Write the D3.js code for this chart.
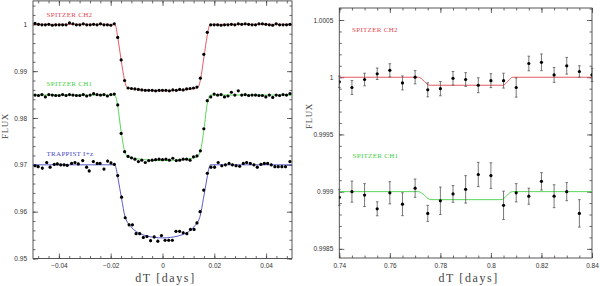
<!DOCTYPE html>
<html><head><meta charset="utf-8">
<script src="https://cdn.jsdelivr.net/npm/d3@7"></script>
<style>
html,body{margin:0;padding:0;background:#fff;}
svg{display:block;}
.tick text{font-family:"Liberation Sans","DejaVu Sans",sans-serif;font-size:6.5px;fill:#333;}
</style></head>
<body><svg id="c" width="600" height="286"></svg>
<script>
// ---------- DATA ----------
// Left panel: Spitzer sampling index (k) with step in days
const spitzerIndex = d3.range(-37, 38);
const spitzerStep = 0.00133;
const ch2Flux = [1.0002,1.0000,0.9999,0.9999,1.0000,0.9998,0.9999,0.9999,0.9999,0.9999,1.0003,1.0001,0.9999,0.9999,1.0001,0.9999,0.9999,1.0000,0.9999,1.0001,0.9999,0.9999,0.9998,1.0001,
 0.9972,0.9924,0.9880,
 0.9864,0.9863,0.9862,0.9861,0.9860,0.9859,0.9859,0.9859,0.9858,0.9859,0.9859,0.9859,0.9858,0.9860,0.9859,0.9861,0.9860,0.9862,0.9863,0.9864,0.9866,
 0.9885,0.9936,0.9983,0.9999,
 0.9999,0.9999,0.9998,0.9999,0.9999,1.0000,0.9999,1.0001,1.0000,1.0001,1.0000,0.9999,0.9999,1.0001,1.0001,1.0000,0.9999,0.9998,1.0001,0.9999,0.9999,0.9999,1.0000];
const ch1Flux = [0.9849,0.9848,0.9850,0.9845,0.9850,0.9849,0.9848,0.9848,0.9850,0.9848,0.9850,0.9849,0.9848,0.9848,0.9850,0.9847,0.9849,0.9852,0.9850,0.9849,0.9850,0.9847,0.9850,0.9851,
 0.9828,0.9767,0.9728,
 0.9718,0.9715,0.9712,0.9707,0.9710,0.9705,0.9709,0.9710,0.9711,0.9712,0.9711,0.9712,0.9710,0.9714,0.9709,0.9710,0.9712,0.9712,0.9710,0.9717,0.9719,
 0.9730,0.9777,0.9837,0.9845,
 0.9851,0.9849,0.9850,0.9845,0.9847,0.9855,0.9849,0.9858,0.9849,0.9850,0.9848,0.9849,0.9849,0.9848,0.9848,0.9845,0.9849,0.9844,0.9849,0.9848,0.9850,0.9849,0.9852];
const trappistTime = [-0.0492,-0.0480,-0.0464,-0.0447,-0.0434,-0.0418,-0.0406,-0.0393,-0.0380,-0.0368,-0.0351,-0.0338,-0.0325,-0.0308,-0.0293,-0.0283,-0.0267,-0.0252,-0.0241,-0.0226,-0.0212,-0.0199,-0.0186,-0.0173,-0.0158,-0.0144,
 -0.0129,-0.0116,-0.0102,-0.0088,-0.0074,-0.0060,-0.0046,-0.0032,-0.0018,-0.0004,0.0010,0.0024,0.0038,0.0052,0.0066,0.0080,0.0094,0.0108,0.0122,0.0133,
 0.0145,0.0159,0.0173,0.0187,0.0201,0.0215,0.0229,0.0243,0.0257,0.0270,0.0284,0.0298,0.0312,0.0325,0.0339,0.0353,0.0366,0.0380,0.0393,0.0406,0.0420,0.0434,0.0447,0.0461,0.0475,0.0492];
const trappistFlux = [0.9698,0.9696,0.9693,0.9705,0.9695,0.9701,0.9702,0.9700,0.9700,0.9699,0.9703,0.9705,0.9702,0.9709,0.9695,0.9687,0.9707,0.9703,0.9703,0.9691,0.9708,0.9704,0.9701,0.9677,0.9631,0.9587,
 0.9572,0.9572,0.9553,0.9553,0.9545,0.9547,0.9538,0.9546,0.9537,0.9549,0.9539,0.9539,0.9539,0.9558,0.9558,0.9555,0.9553,0.9562,0.9562,0.9576,
 0.9600,0.9646,0.9682,0.9695,0.9695,0.9705,0.9698,0.9700,0.9703,0.9700,0.9698,0.9697,0.9703,0.9705,0.9703,0.9700,0.9695,0.9701,0.9703,0.9703,0.9700,0.9696,0.9696,0.9696,0.9696,0.9707];
const trappistErr = 0.0003;
// model curves (knots)
const ch2Model = [[-0.05,1.0],[-0.0185,1.0],[-0.0179,0.9993],[-0.0173,0.9973],[-0.0160,0.9925],[-0.0147,0.9882],[-0.0140,0.9868],[-0.0132,0.9864],[-0.0110,0.9862],[-0.0060,0.9859],[0,0.9858],[0.0060,0.9859],[0.0110,0.9862],[0.0132,0.9864],[0.0140,0.9868],[0.0147,0.9883],[0.0160,0.9930],[0.0173,0.9977],[0.0179,0.9994],[0.0185,1.0],[0.05,1.0]];
const ch1Model = [[-0.05,0.9849],[-0.0185,0.9849],[-0.0179,0.9843],[-0.0173,0.9826],[-0.0160,0.9772],[-0.0147,0.9731],[-0.0140,0.9721],[-0.0130,0.9716],[-0.0100,0.9713],[-0.0050,0.9710],[0,0.9709],[0.0050,0.9710],[0.0100,0.9713],[0.0130,0.9716],[0.0140,0.9721],[0.0147,0.9731],[0.0160,0.9775],[0.0173,0.9832],[0.0179,0.9844],[0.0185,0.9849],[0.05,0.9849]];
const trappistModel = [[-0.05,0.9700],[-0.0185,0.9700],[-0.0178,0.9690],[-0.0172,0.9672],[-0.0158,0.9628],[-0.0145,0.9590],[-0.0138,0.9580],[-0.0125,0.9570],[-0.0110,0.9561],[-0.0090,0.9554],[-0.0060,0.9548],[-0.0030,0.9545],[0,0.9544],[0.0030,0.9545],[0.0060,0.9548],[0.0090,0.9554],[0.0110,0.9561],[0.0125,0.9570],[0.0138,0.9580],[0.0145,0.9590],[0.0158,0.9628],[0.0172,0.9672],[0.0178,0.9690],[0.0185,0.9700],[0.05,0.9700]];

// Right panel (secondary eclipse)
const rightTime = [0.740,0.745,0.750,0.755,0.760,0.765,0.770,0.775,0.780,0.785,0.790,0.795,0.800,0.805,0.810,0.815,0.820,0.825,0.830,0.835,0.840];
const ch2EclFlux = [0.99996,0.99991,0.99998,1.00003,1.00006,0.99995,1.00000,0.99989,0.99990,0.99999,0.99998,0.99993,0.99997,0.99997,0.99991,1.00012,1.00013,1.00002,1.00010,1.00005,1.00002];
const ch2EclErr  = [0.00005,0.000061,0.000055,0.00005,0.000058,0.000061,0.000058,0.000061,0.000062,0.00006,0.00006,0.000065,0.000061,0.000065,0.000084,0.000064,0.000073,0.000065,0.000073,0.00005,0.000058];
const ch1Time = [0.740,0.745,0.750,0.755,0.760,0.765,0.770,0.775,0.780,0.785,0.790,0.795,0.800,0.805,0.810,0.815,0.820,0.825,0.830,0.835];
const ch1EclFlux = [0.99895,0.99900,0.99897,0.99885,0.99899,0.99889,0.99903,0.99881,0.99892,0.99898,0.99902,0.99915,0.99914,0.99888,0.99899,0.99896,0.99909,0.99896,0.99900,0.99881];
const ch1EclErr  = [0.00007,0.000092,0.0001,0.000061,0.000097,0.0001,0.00008,0.00007,0.00012,0.000073,0.00012,0.000106,0.000112,0.000124,0.00008,0.00007,0.000076,0.0001,0.000079,0.00012];
const ch2EclModel = [[0.74,1.0],[0.7713,1.0],[0.7758,0.99993],[0.8047,0.99993],[0.8087,1.0],[0.84,1.0]];
const ch1EclModel = [[0.74,0.999],[0.7713,0.999],[0.7763,0.99893],[0.8040,0.99893],[0.8085,0.999],[0.84,0.999]];

const leftXTicks = [-0.04,-0.02,0,0.02,0.04];
const leftYTicks = [0.95,0.96,0.97,0.98,0.99,1.0];
const rightXTicks = [0.74,0.76,0.78,0.80,0.82,0.84];
const rightYTicks = [0.9985,0.999,0.9995,1.0,1.0005];

const labels = {ch2:"SPITZER CH2", ch1:"SPITZER CH1", trap:"TRAPPIST I+z"};
const colors = {ch2:"#e2474f", ch1:"#44d244", trap:"#4848c4"};

// ---------- DRAW ----------
const svg = d3.select("#c");
const serif = '"Liberation Serif","DejaVu Serif",serif';

function panel(opt){
  const g = svg.append("g");
  const x = opt.x, y = opt.y;
  const [x0,x1] = x.range(), [y0,y1] = y.range();
  const clipId = "clip"+opt.id;
  svg.append("clipPath").attr("id",clipId).append("rect")
    .attr("x",x0).attr("y",y1).attr("width",x1-x0).attr("height",y0-y1);
  const fmt = opt.fmt;
  // major axes
  const axes = [
    [d3.axisBottom(x).tickValues(opt.xt).tickSize(-5).tickPadding(5).tickFormat(opt.xfmt), `translate(0,${y0})`],
    [d3.axisTop(x).tickValues(opt.xt).tickSize(-5).tickFormat(""), `translate(0,${y1})`],
    [d3.axisLeft(y).tickValues(opt.yt).tickSize(-5).tickPadding(6).tickFormat(fmt), `translate(${x0},0)`],
    [d3.axisRight(y).tickValues(opt.yt).tickSize(-5).tickFormat(""), `translate(${x1},0)`],
    [d3.axisBottom(x).tickValues(opt.xm).tickSize(-2.5).tickFormat(""), `translate(0,${y0})`],
    [d3.axisTop(x).tickValues(opt.xm).tickSize(-2.5).tickFormat(""), `translate(0,${y1})`],
    [d3.axisLeft(y).tickValues(opt.ym).tickSize(-2.5).tickFormat(""), `translate(${x0},0)`],
    [d3.axisRight(y).tickValues(opt.ym).tickSize(-2.5).tickFormat(""), `translate(${x1},0)`]
  ];
  axes.forEach(([a,t])=>{
    const ag = g.append("g").attr("transform",t).call(a);
    ag.select(".domain").remove();
    ag.selectAll("line").attr("stroke","#444").attr("stroke-width",0.8);
  });
  g.append("rect").attr("x",x0).attr("y",y1).attr("width",x1-x0).attr("height",y0-y1)
    .attr("fill","none").attr("stroke","#444").attr("stroke-width",0.9);
  // axis titles
  g.append("text").attr("x",(x0+x1)/2+3).attr("y",282).attr("text-anchor","middle")
    .attr("font-family",serif).attr("font-size",12).attr("letter-spacing",1.6).attr("fill","#444")
    .text("dT [days]");
  g.append("text").attr("transform",`translate(${opt.fluxX},${opt.fluxY}) rotate(-90)`)
    .attr("text-anchor","middle").attr("font-family",serif).attr("font-size",9).attr("letter-spacing",0.6)
    .attr("fill","#444").text("FLUX");
  return {g, x, y, clip:`url(#${clipId})`};
}

const xL = d3.scaleLinear([-0.05,0.05],[33,292]);
const yL = d3.scaleLinear([0.95,1.005],[258.5,0.9]);
const xR = d3.scaleLinear([0.74,0.84],[339.3,592]);
const yR = d3.scaleLinear([0.99842,1.000605],[258,8]);

const rnd = v => Math.round(v*1e5)/1e5;
const L = panel({id:"L", x:xL, y:yL, xt:leftXTicks, yt:leftYTicks,
  xm:d3.range(-12,13).map(i=>rnd(i*0.004)).filter(v=>v>-0.05&&v<0.05),
  ym:d3.range(475,503).map(i=>rnd(i*0.002)),
  xfmt:d=>d===0?"0":d3.format(".2f")(d).replace("-","\u2212"),
  fmt:d=>d===1?"1":d3.format(".2f")(d), fluxX:8, fluxY:126});
const R = panel({id:"R", x:xR, y:yR, xt:rightXTicks, yt:rightYTicks,
  xm:d3.range(148,169).map(i=>rnd(i*0.005)),
  ym:d3.range(9985,10007).map(i=>rnd(i*0.0001)).filter(v=>v>0.99842&&v<1.000605),
  xfmt:d=>String(+d.toFixed(2)),
  fmt:d=>String(+d.toFixed(4)), fluxX:312, fluxY:116});

const curve = d3.line().curve(d3.curveMonotoneX);

function model(P, pts, col){
  const ln = d3.line().x(d=>P.x(d[0])).y(d=>P.y(d[1])).curve(d3.curveMonotoneX);
  P.g.append("path").attr("d",ln(pts)).attr("fill","none").attr("stroke",col)
    .attr("stroke-width",0.9).attr("clip-path",P.clip);
}
function points(P, xs, ys, r){
  P.g.append("g").attr("clip-path",P.clip).selectAll("circle").data(xs).join("circle")
    .attr("cx",(d)=>P.x(d)).attr("cy",(d,i)=>P.y(ys[i])).attr("r",r).attr("fill","#000");
}
function errbars(P, xs, ys, es, col, cap){
  const g = P.g.append("g").attr("stroke",col).attr("stroke-width",0.8);
  xs.forEach((t,i)=>{
    const cx=P.x(t), ya=P.y(ys[i]+es[i]), yb=P.y(ys[i]-es[i]);
    g.append("line").attr("x1",cx).attr("x2",cx).attr("y1",ya).attr("y2",yb);
    if(cap){
      g.append("line").attr("x1",cx-cap).attr("x2",cx+cap).attr("y1",ya).attr("y2",ya);
      g.append("line").attr("x1",cx-cap).attr("x2",cx+cap).attr("y1",yb).attr("y2",yb);
    }
  });
}
function label(P, t, px, py, col){
  P.g.append("text").attr("x",px).attr("y",py).attr("font-family",serif).attr("font-size",7)
    .attr("letter-spacing",0.3).attr("fill",col).text(t);
}

// Left panel
const spTime = spitzerIndex.map(k=>rnd(k*spitzerStep));
model(L, ch2Model, colors.ch2);
model(L, ch1Model, colors.ch1);
model(L, trappistModel, colors.trap);
errbars(L, trappistTime, trappistFlux, trappistTime.map(()=>trappistErr), "#000", 0);
points(L, spTime, ch2Flux, 1.6);
points(L, spTime, ch1Flux, 1.6);
points(L, trappistTime, trappistFlux, 1.6);
label(L, labels.ch2, 46.5, 16.5, colors.ch2);
label(L, labels.ch1, 46.5, 85.5, colors.ch1);
label(L, labels.trap, 46.5, 155.5, colors.trap);

// Right panel
model(R, ch2EclModel, colors.ch2);
model(R, ch1EclModel, colors.ch1);
errbars(R, rightTime, ch2EclFlux, ch2EclErr, "#555", 1.3);
errbars(R, ch1Time, ch1EclFlux, ch1EclErr, "#555", 1.3);
points(R, rightTime, ch2EclFlux, 1.6);
points(R, ch1Time, ch1EclFlux, 1.6);
label(R, labels.ch2, 352, 32, colors.ch2);
label(R, labels.ch1, 352.5, 158, colors.ch1);
</script></body></html>
